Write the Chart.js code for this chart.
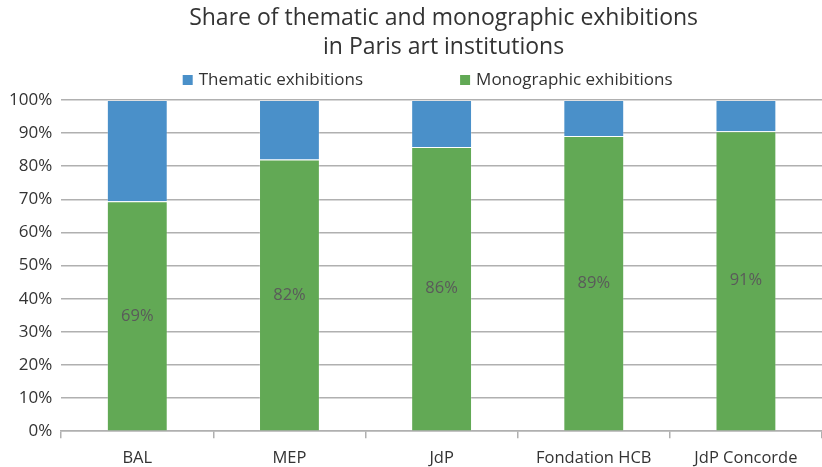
<!DOCTYPE html>
<html>
<head>
<meta charset="utf-8">
<script src="https://cdn.jsdelivr.net/npm/chart.js@4"></script>
<style>
html,body{margin:0;padding:0;background:#fff;}
#wrap{width:822px;height:467px;}
</style>
</head>
<body>
<div id="wrap"><canvas id="c" width="822" height="467"></canvas></div>
<script>
const categories = ["BAL", "MEP", "JdP", "Fondation HCB", "JdP Concorde"];
const monographic = [69.4, 82.0, 85.8, 89.1, 90.6];
const thematic = [30.6, 18.0, 14.2, 10.9, 9.4];
const monographicLabels = ["69%", "82%", "86%", "89%", "91%"];
const yTicks = [0, 10, 20, 30, 40, 50, 60, 70, 80, 90, 100];
const titleLines = ['Share of thematic and monographic exhibitions', 'in Paris art institutions'];

const FONT = "'Open Sans', 'Noto Sans', sans-serif";

const labelPlugin = {
  id: 'barLabels',
  afterDatasetsDraw(chart) {
    const ctx = chart.ctx;
    const meta = chart.getDatasetMeta(0);
    ctx.save();
    ctx.fillStyle = '#5a5a5a';
    ctx.font = "16.5px " + FONT;
    ctx.textAlign = 'center';
    ctx.textBaseline = 'middle';
    meta.data.forEach((el, i) => {
      const y = (el.y + el.base) / 2;
      ctx.fillText(monographicLabels[i], el.x, y);
    });
    ctx.restore();
  }
};

// Title and legend placed as in the original
const headerPlugin = {
  id: 'header',
  afterDraw(chart) {
    const ctx = chart.ctx;
    const area = chart.chartArea;
    const mid = (area.left + area.right) / 2;
    const titleX = mid + 2;
    const legendX = mid - 14;
    ctx.save();
    ctx.fillStyle = '#333333';
    ctx.textAlign = 'center';
    ctx.textBaseline = 'middle';
    ctx.font = "23px " + FONT;
    ctx.fillText(titleLines[0], titleX, 18);
    ctx.fillText(titleLines[1], titleX, 47);

    // legend: Thematic first, then Monographic
    const items = [chart.data.datasets[1], chart.data.datasets[0]];
    ctx.font = "17px " + FONT;
    const box = 10, gapText = 6, gapItem = 97;
    const widths = items.map(d => box + gapText + ctx.measureText(d.label).width);
    const total = widths[0] + gapItem + widths[1];
    let x = legendX - total / 2;
    const y = 80;
    ctx.textAlign = 'left';
    items.forEach((d, i) => {
      ctx.fillStyle = d.backgroundColor;
      ctx.fillRect(x, y - box / 2, box, box);
      ctx.fillStyle = '#333333';
      ctx.fillText(d.label, x + box + gapText, y);
      x += widths[i] + gapItem;
    });
    ctx.restore();
  }
};

new Chart(document.getElementById('c'), {
  type: 'bar',
  data: {
    labels: categories,
    datasets: [
      {label: 'Monographic exhibitions', data: monographic, backgroundColor: '#62a955', borderColor: 'rgba(255,255,255,0.2)', borderWidth: 1, barPercentage: 0.4, categoryPercentage: 1.0},
      {label: 'Thematic exhibitions', data: thematic, backgroundColor: '#4a90c9', borderColor: 'rgba(255,255,255,0.2)', borderWidth: 1, barPercentage: 0.4, categoryPercentage: 1.0}
    ]
  },
  options: {
    responsive: false,
    animation: false,
    devicePixelRatio: 1,
    layout: {padding: {left: 0, right: 0, top: 100, bottom: -11}},
    plugins: {
      title: {display: false},
      legend: {display: false},
      tooltip: {enabled: false}
    },
    scales: {
      x: {
        stacked: true,
        grid: {display: true, drawOnChartArea: false, drawTicks: true, tickLength: 7, color: '#b0b0b0', offset: true, lineWidth: 1.5},
        border: {display: true, color: '#b0b0b0', width: 1.5},
        ticks: {color: '#333333', font: {family: FONT, size: 16.5}, padding: 10, maxRotation: 0}
      },
      y: {
        stacked: true,
        min: 0, max: 100,
        afterBuildTicks(axis) { axis.ticks = yTicks.map(v => ({value: v})); },
        grid: {color: '#b0b0b0', lineWidth: 1.5, drawTicks: false},
        border: {display: false},
        ticks: {color: '#333333', font: {family: FONT, size: 17}, padding: 9, callback: v => v + '%'}
      }
    }
  },
  plugins: [labelPlugin, headerPlugin]
});
</script>
</body>
</html>
